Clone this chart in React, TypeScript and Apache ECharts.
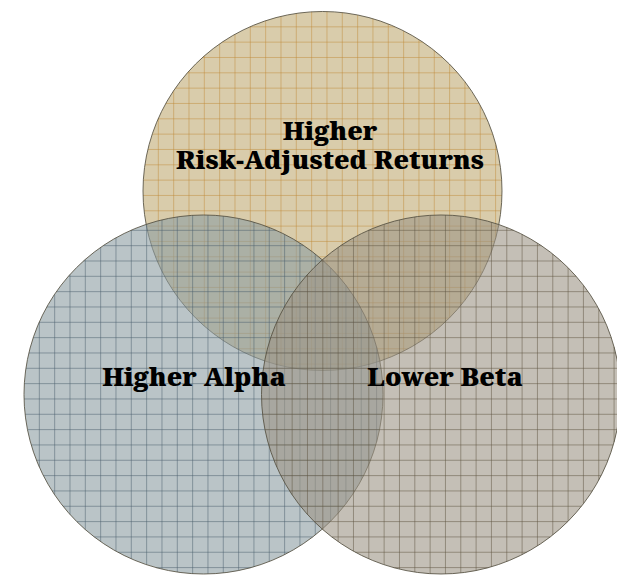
import React, { useEffect, useRef } from "react";
import * as echarts from "echarts";

// Venn sets (chart units)
const setLabels = ["Higher\nRisk-Adjusted Returns", "Higher Alpha", "Lower Beta"];
const centerX = [322.5, 203.5, 441];
const centerY = [191, 394.5, 394.5];
const radius = [179.5, 179.5, 179.5];

const FILLS = ["rgba(192,170,115,0.6)", "rgba(140,157,162,0.6)", "rgba(157,148,133,0.6)"];
const GRID_COLORS = ["rgba(190,135,50,0.45)", "rgba(75,95,110,0.5)", "rgba(95,85,65,0.5)"];
const LABEL_OFFSETS = [[7.5, -47], [-9.5, -18.5], [4, -18.5]];
const GRID_STEP = 15.33;

export default function App() {
  const ref = useRef<HTMLDivElement>(null);
  useEffect(() => {
    if (!ref.current) return;
    const chart = echarts.init(ref.current, null, { renderer: "svg" });
    const data = setLabels.map((name, i) => ({ name, value: [centerX[i], centerY[i], radius[i], i] }));

    const renderCircle = (params: any, api: any) => {
      const i = api.value(3);
      const [px, py] = api.coord([api.value(0), api.value(1)]);
      const pr = api.size([api.value(2), 0])[0];
      const children: any[] = [
        { type: "circle", shape: { cx: px, cy: py, r: pr }, style: { fill: FILLS[i], stroke: "none" } },
      ];
      const lineStyle = { stroke: GRID_COLORS[i], lineWidth: 1 };
      for (let x = px - pr + GRID_STEP; x < px + pr; x += GRID_STEP) {
        const dx = x - px;
        const h = Math.sqrt(Math.max(0, pr * pr - dx * dx));
        children.push({ type: "line", shape: { x1: x, y1: py - h, x2: x, y2: py + h }, style: lineStyle });
      }
      for (let y = py - pr + GRID_STEP; y < py + pr; y += GRID_STEP) {
        const dy = y - py;
        const w = Math.sqrt(Math.max(0, pr * pr - dy * dy));
        children.push({ type: "line", shape: { x1: px - w, y1: y, x2: px + w, y2: y }, style: lineStyle });
      }
      children.push({
        type: "circle",
        shape: { cx: px, cy: py, r: pr },
        style: { fill: "none", stroke: "rgba(85,80,65,0.85)", lineWidth: 1 },
      });
      return { type: "group", children };
    };

    const renderLabel = (params: any, api: any) => {
      const i = api.value(3);
      const [px, py] = api.coord([api.value(0), api.value(1)]);
      return {
        type: "text",
        style: {
          text: setLabels[i],
          x: px + LABEL_OFFSETS[i][0],
          y: py + LABEL_OFFSETS[i][1],
          align: "center",
          verticalAlign: "middle",
          font: "900 26px 'Noto Serif', 'DejaVu Serif', serif",
          lineHeight: 29,
          fill: "#000",
        },
      };
    };

    chart.setOption({
      animation: false,
      backgroundColor: "#fff",
      grid: { left: 0, right: 0, top: 0, bottom: 0 },
      xAxis: { type: "value", min: 0, max: 617, show: false },
      yAxis: { type: "value", min: 0, max: 575, inverse: true, show: false },
      series: [
        { type: "custom", renderItem: renderCircle, data, clip: false, z: 1 },
        { type: "custom", renderItem: renderLabel, data, clip: false, z: 5 },
      ],
    });
    return () => chart.dispose();
  }, []);
  return <div ref={ref} style={{ position: "fixed", left: 0, top: 0, width: 617, height: 575 }} />;
}
